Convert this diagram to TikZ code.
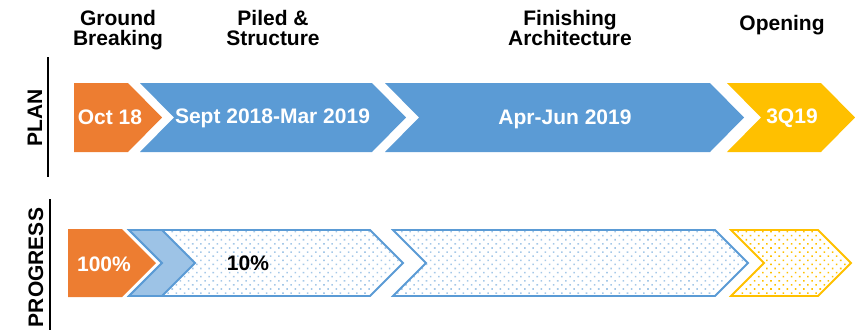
\documentclass[tikz,border=0pt]{standalone}
\usepackage{fontspec}
\setmainfont{Liberation Sans}
\usetikzlibrary{patterns.meta}
\definecolor{orng}{HTML}{ED7D31}
\definecolor{blu}{HTML}{5B9BD5}
\definecolor{lblu}{HTML}{9DC3E6}
\definecolor{yel}{HTML}{FFC000}
\tikzstyle{stage} = [font=\bfseries\fontsize{21}{20}\selectfont,
    align=center, inner sep=0pt, anchor=north]
\tikzstyle{datebox} = [font=\bfseries\fontsize{21}{20}\selectfont,
    text=white, inner sep=0pt, text height=15pt, text depth=0pt]
\tikzstyle{rowname} = [font=\bfseries\fontsize{21}{20}\selectfont,
    rotate=90, inner sep=0pt, text height=15pt, text depth=0pt]
\tikzstyle{dotted blue} = [draw=blu, line width=1.8pt,
    pattern={Dots[distance=5.8pt, radius=1.1pt, angle=45]}, pattern color=blu!55]
\tikzstyle{dotted yel} = [draw=yel, line width=1.8pt,
    pattern={Dots[distance=5.8pt, radius=1.1pt, angle=45]}, pattern color=yel]

\begin{document}
\begin{tikzpicture}[x=1pt, y=-1pt]
    \useasboundingbox (0,0) rectangle (855,330);

    % headings
    \node[stage] (ground) at (118,10) {Ground\\Breaking};
    \node[stage] (piled) at (273,10) {Piled \&\\Structure};
    \node[stage] (finish) at (570,10) {Finishing\\Architecture};
    \node[stage, anchor=center] (open) at (782,25) {Opening};

    % row names
    \node[rowname] (plan) at (34.5,117.5) {PLAN};
    \node[rowname] (progress) at (35.5,267.5) {PROGRESS};
    \draw[line width=1.3pt] (48,57) -- (48,177);
    \draw[line width=1.3pt] (50,199) -- (50,330);

    % plan
    \fill[orng] (74,83) -- (128,83) -- (162,117.5) -- (128,152) -- (74,152) -- cycle;
    \fill[blu] (140,83) -- (372,83) -- (406,117.5) -- (372,152) -- (140,152)
        -- (174,117.5) -- cycle;
    \fill[blu] (385,83) -- (710,83) -- (744,117.5) -- (710,152) -- (385,152)
        -- (419,117.5) -- cycle;
    \fill[yel] (727,83) -- (821,83) -- (855,117.5) -- (821,152) -- (727,152)
        -- (761,117.5) -- cycle;

    \node[datebox] (oct) at (110,117) {Oct 18};
    \node[datebox] (sept) at (272.5,116) {Sept 2018-Mar 2019};
    \node[datebox] (apr) at (565,117) {Apr-Jun 2019};
    \node[datebox] (q3) at (792,116) {3Q19};

    % progress
    \fill[orng] (68,229) -- (122,229) -- (156,263) -- (122,297) -- (68,297) -- cycle;
    \draw[dotted blue] (129,230) -- (370,230) -- (403,263) -- (370,296) -- (129,296)
        -- (162,263) -- cycle;
    \draw[draw=blu, line width=1.8pt, fill=lblu] (129,230) -- (162,230) -- (195,263)
        -- (162,296) -- (129,296) -- (162,263) -- cycle;
    \draw[dotted blue] (393,230) -- (715,230) -- (748,263) -- (715,296) -- (393,296)
        -- (426,263) -- cycle;
    \draw[dotted yel] (731,230) -- (818,230) -- (851,263) -- (818,296) -- (731,296)
        -- (764,263) -- cycle;

    \node[datebox] (done) at (104,263.5) {100\%};
    \node[datebox, text=black] (ten) at (248,262.5) {10\%};
\end{tikzpicture}
\end{document}
